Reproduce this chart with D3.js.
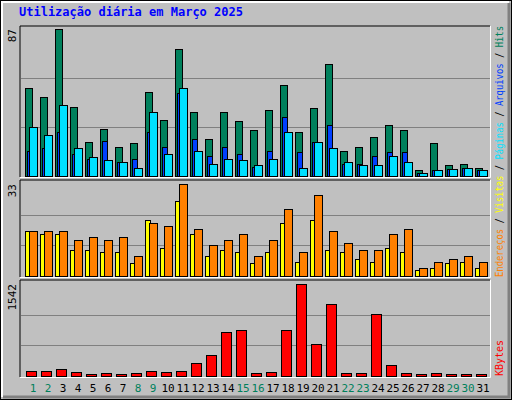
<!DOCTYPE html>
<html><head><meta charset="utf-8">
<script src="https://cdn.jsdelivr.net/npm/d3@7/dist/d3.min.js"></script>
<style>body{margin:0;background:#fff}svg text{font-family:"DejaVu Sans Mono",monospace}</style>
</head><body><svg id="c" width="512" height="400"></svg>
<script>
const days = d3.range(1,32);
const weekend = [1,2,8,9,15,16,22,23,29,30];
const hits  = [52,47,87,41,20,28,17,19.5,50,33,75,38,22,38,32.5,27,39,54,26,40,66,15,17,23,30,27,3.5,19.5,6.5,7,5];
const files = [15,16.5,26,13,10,21,8,10,26,17,49,22,12,17,13,5.5,15,35,14,20,30,7,7,12,14,14,2,3.5,4,5,3.5];
const pages = [29,24,42,16.5,11,9.5,8,5,38,13,52,15,7,10,9.5,6.5,10,26,5,20,16.5,8,6.5,6.5,12,8,2,3.5,4,5,3.5];
const visits= [16,15,15,9.5,9.5,8.5,8.5,4.5,20,10,27,15,7,9.5,8.5,4.5,8.5,19,5,20,9.5,8.5,6,5,10,8.5,2,3,4.5,5,3];
const sites = [16,16,16,13,14,13,14,7,19,18,33,17,11,13,15,7,13,24,8.5,29,16,12,9.5,9.5,15,17,3,5,6,7,5];
const kbytes= [84,84,117,67,34,50,34,50,84,67,84,218,352,737,771,50,67,771,1542,536,1207,50,50,1039,184,50,34,50,34,34,34];
const maxTop=87, maxMid=33, maxBot=1542;

const svg=d3.select("#c");
svg.append("rect").attr("x",0.5).attr("y",0.5).attr("width",511).attr("height",399).attr("fill","#C0C0C0").attr("stroke","#000");
svg.append("path").attr("d","M2,397V2H509").attr("fill","none").attr("stroke","#fff").attr("stroke-width",2);
svg.append("path").attr("d","M3,397H509V3").attr("fill","none").attr("stroke","#808080").attr("stroke-width",3);
svg.append("text").attr("x",19).attr("y",16).attr("fill","#0000FF").attr("font-size",12).attr("font-weight","bold").text("Utilização diária em Março 2025");

const x=d3.scaleBand().domain(days).range([25,490]);
const panels=[{y0:26,y1:177,top:29,max:maxTop,lab:"87"},{y0:180,y1:277,top:184,max:maxMid,lab:"33"},{y0:280,y1:377,top:284,max:maxBot,lab:"1542"}];
panels.forEach(p=>{
  svg.append("rect").attr("x",20).attr("y",p.y0).attr("width",470).attr("height",p.y1-p.y0).attr("fill","#C0C0C0");
  svg.append("path").attr("d",`M20,${p.y1}V${p.y0}H490`).attr("fill","none").attr("stroke","#000").attr("stroke-width",1);
  svg.append("path").attr("d",`M20,${p.y1+0.5}H490.5V${p.y0}`).attr("fill","none").attr("stroke","#fff").attr("stroke-width",1);
  p.y=d3.scaleLinear().domain([0,p.max]).range([p.y1-1,p.top]);
  const step=(p.y1-1-p.top)/3;
  [1,2].forEach(i=>svg.append("line").attr("x1",21).attr("x2",490).attr("y1",Math.round(p.y1-1-step*i)+0.5).attr("y2",Math.round(p.y1-1-step*i)+0.5).attr("stroke","#808080"));
  svg.append("text").attr("transform",`translate(16,${p.top}) rotate(-90)`).attr("text-anchor","end").attr("font-size",11).attr("fill","#000").text(p.lab);
});
function bars(data,panel,off,w,color){
  const y=panel.y;
  svg.append("g").selectAll("rect").data(data).join("rect")
    .attr("x",(d,i)=>x(days[i])+off+0.5).attr("y",d=>Math.round(y(d))+0.5)
    .attr("width",w).attr("height",d=>Math.max(1,y(0)-Math.round(y(d))))
    .attr("fill",color).attr("stroke","#000").attr("stroke-width",1);
}
bars(hits,panels[0],0,7,"#00805C");
bars(files,panels[0],2,5,"#0040FF");
bars(pages,panels[0],4,8,"#00E0FF");
bars(visits,panels[1],0,5,"#FFFF00");
bars(sites,panels[1],4,8,"#FF8000");
bars(kbytes,panels[2],1,10,"#FF0000");

svg.append("g").selectAll("text").data(days).join("text")
  .attr("x",d=>x(d)+8).attr("y",392).attr("text-anchor","middle").attr("font-size",11)
  .attr("fill",d=>weekend.includes(d)?"#00805C":"#000").text(d=>d);

function side(yBottom,parts,len){
  const t=svg.append("text").attr("transform",`translate(503,${yBottom}) rotate(-90)`).attr("font-size",10);
  if(len) t.attr("textLength",len).attr("lengthAdjust","spacingAndGlyphs");
  parts.forEach(([s,c])=>t.append("tspan").attr("fill",c).text(s));
}
side(277,[["Endereços","#FF8000"],[" / ","#000"],["Visitas","#FFFF00"],[" / ","#000"],["Páginas","#00E0FF"],[" / ","#000"],["Arquivos","#0040FF"],[" / ","#000"],["Hits","#00805C"]],251);
side(376,[["KBytes","#FF0000"]]);
</script></body></html>
